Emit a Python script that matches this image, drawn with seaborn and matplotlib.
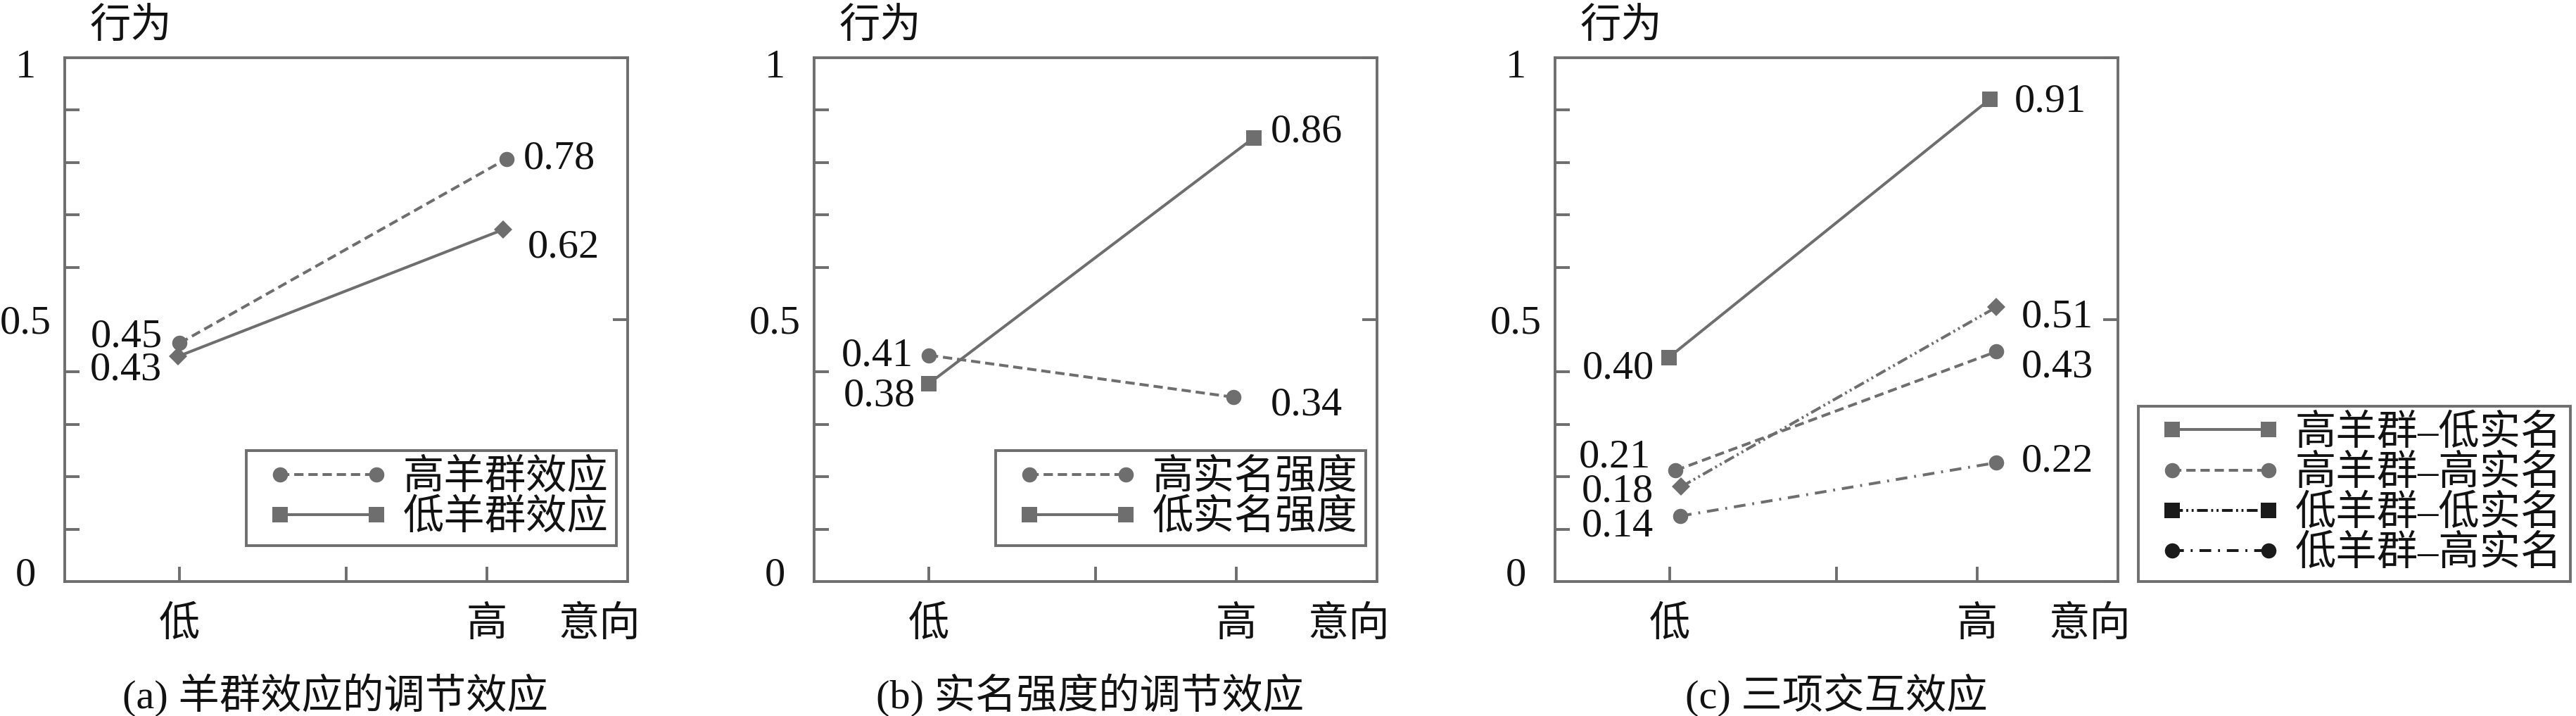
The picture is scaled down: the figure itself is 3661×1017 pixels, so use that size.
import matplotlib
matplotlib.use("Agg")
import matplotlib.pyplot as plt
from matplotlib.lines import Line2D
from matplotlib.legend_handler import HandlerLine2D
from matplotlib.transforms import ScaledTranslation
import seaborn as sns
import pandas as pd

# ---------------- data ----------------
intent_levels = ["低", "高"]          # 意向 (x)
intent_x = [0.0, 1.0]
y_tick_values = [0, 0.5, 1]
y_tick_labels = ["0", "0.5", "1"]
y_label = "行为"
x_label = "意向"

# (a) 羊群效应的调节效应
a_groups = ["高羊群效应", "低羊群效应"]
a_high_herd = [0.455, 0.807]
a_low_herd = [0.430, 0.672]
a_high_herd_x = [0.0, 1.005]
a_low_herd_x = [-0.004, 0.995]
a_high_herd_labels = ["0.45", "0.78"]
a_low_herd_labels = ["0.43", "0.62"]

# (b) 实名强度的调节效应
b_groups = ["高实名强度", "低实名强度"]
b_high_name = [0.432, 0.352]
b_low_name = [0.378, 0.847]
b_high_name_x = [0.0, 0.936]
b_low_name_x = [0.0, 0.998]
b_high_name_labels = ["0.41", "0.34"]
b_low_name_labels = ["0.38", "0.86"]

# (c) 三项交互效应
c_groups = ["高羊群–低实名", "高羊群–高实名", "低羊群–低实名", "低羊群–高实名"]
c_hh_ln = [0.428, 0.921]
c_hh_hn = [0.212, 0.439]
c_lh_ln = [0.181, 0.524]
c_lh_hn = [0.125, 0.227]
c_hh_ln_x = [-0.003, 0.984]
c_hh_hn_x = [0.017, 1.004]
c_lh_ln_x = [0.035, 1.004]
c_lh_hn_x = [0.031, 1.004]
c_hh_ln_labels = ["0.40", "0.91"]
c_hh_hn_labels = ["0.21", "0.43"]
c_lh_ln_labels = ["0.18", "0.51"]
c_lh_hn_labels = ["0.14", "0.22"]

titles = ["(a) 羊群效应的调节效应", "(b) 实名强度的调节效应", "(c) 三项交互效应"]

# ---------------- style ----------------
sns.set_style("white")
FAMILY = ["Liberation Serif", "Noto Sans CJK SC", "DejaVu Sans"]
plt.rcParams["font.family"] = FAMILY
plt.rcParams["lines.scale_dashes"] = False
FS = 42
GRAY = "#6e6e6e"
BLACK = "#1a1a1a"
TEXT = "#121212"
LW = 2.9
FRAME_LW = 2.8
MS = 15.5
MS_D = 13
DASHED = (9.5, 5)
DASHDOTDOT = (11, 3.5, 2, 3.5, 2, 3.5)
DASHDOT = (12, 7, 2, 7)

W, H = 3661, 1017
DPI = 100
fig = plt.figure(figsize=(W / DPI, H / DPI), dpi=DPI)
fig.patch.set_facecolor("white")

AX_TOP, AX_BOT = 82, 826
AX_H = AX_BOT - AX_TOP
AX_W = 800
lefts = [92, 1157, 2210]
axes = [fig.add_axes([L / W, 1 - AX_BOT / H, AX_W / W, AX_H / H]) for L in lefts]

LOW_FRAC, HIGH_FRAC = 0.204, 0.782
span = HIGH_FRAC - LOW_FRAC
xlim = (-LOW_FRAC / span, (1 - LOW_FRAC) / span)
x_mid_tick = (0.5 - LOW_FRAC) / span
x_high_tick = (0.75 - LOW_FRAC) / span
title_x = [0.48, 0.49, 0.50]


def px(v):
    return v / DPI


def frame_axes(ax, title, tx):
    ax.set_xlim(*xlim)
    ax.set_ylim(0, 1)
    for sp in ax.spines.values():
        sp.set_visible(True)
        sp.set_color(GRAY)
        sp.set_linewidth(FRAME_LW)
    ax.set_yticks(y_tick_values, labels=y_tick_labels)
    ax.set_yticks([0.1, 0.2, 0.3, 0.4, 0.6, 0.7, 0.8, 0.9], minor=True)
    ax.tick_params(axis="y", which="major", left=False, right=True, direction="in",
                   length=15, width=FRAME_LW, color=GRAY, labelleft=True,
                   labelsize=FS, labelcolor=TEXT, pad=40)
    ax.tick_params(axis="y", which="minor", left=True, right=False, direction="in",
                   length=15, width=FRAME_LW, color=GRAY)
    labs = ax.get_yticklabels()
    shifts = [14, 0, -8]
    for lab, s in zip(labs, shifts):
        lab.set_horizontalalignment("center")
        lab.set_verticalalignment("center_baseline")
        lab.set_transform(lab.get_transform() + ScaledTranslation(0, px(s), fig.dpi_scale_trans))

    ax.set_xticks([intent_x[0], x_mid_tick, x_high_tick],
                  labels=[intent_levels[0], "", intent_levels[1]])
    ax.set_xticks([x_mid_tick], minor=True)
    ax.tick_params(axis="x", which="major", bottom=True, top=False, direction="in",
                   length=15, width=FRAME_LW, color=GRAY, labelsize=FS,
                   labelcolor=TEXT, pad=40)
    ax.tick_params(axis="x", which="minor", bottom=False, top=True, direction="in",
                   length=15, width=FRAME_LW, color=GRAY)
    for lab in ax.get_xticklabels():
        lab.set_verticalalignment("center_baseline")
    ax.set_xlabel("")
    ax.set_ylabel("")
    ax.text(0.044, 1 + 50 / AX_H, y_label, transform=ax.transAxes,
            ha="left", va="center_baseline", fontsize=FS, color=TEXT)
    ax.text(0.95, -56 / AX_H, x_label, transform=ax.transAxes,
            ha="center", va="center_baseline", fontsize=FS, color=TEXT)
    ax.text(tx, -155 / AX_H, title, transform=ax.transAxes,
            ha="center", va="center_baseline", fontsize=FS, color=TEXT)


def draw_panel(ax, series, groups, markers, dashes):
    rows = []
    for g, (xs, ys) in zip(groups, series):
        for xv, yv in zip(xs, ys):
            rows.append({"意向": xv, "行为": yv, "组别": g})
    df = pd.DataFrame(rows)
    sns.lineplot(data=df, x="意向", y="行为", hue="组别", style="组别",
                 hue_order=groups, style_order=groups,
                 palette={g: GRAY for g in groups},
                 markers=dict(zip(groups, markers)),
                 dashes=dict(zip(groups, dashes)),
                 markersize=MS, linewidth=LW, markeredgewidth=0,
                 sort=False, estimator=None, legend=False, ax=ax)
    for ln in ax.lines:
        if ln.get_marker() == "D":
            ln.set_markersize(MS_D)


def annotate(ax, xs, ys, labels, offsets):
    for xv, yv, lab, (dx, dy, ha) in zip(xs, ys, labels, offsets):
        ax.annotate(lab, (xv, yv), xytext=(dx, dy), textcoords="offset pixels",
                    ha=ha, va="center_baseline", fontsize=FS, color=TEXT)


def legend(ax, labels, styles, **kw):
    handles = []
    for lab, (ls, mk, mcol, lcol) in zip(labels, styles):
        handles.append(Line2D([], [], color=lcol, linestyle=ls, linewidth=LW,
                              marker=mk, markersize=MS, markerfacecolor=mcol,
                              markeredgecolor=mcol, markeredgewidth=0))
    leg = ax.legend(handles, labels, numpoints=2, fontsize=FS, frameon=True,
                    fancybox=False, framealpha=1, edgecolor=GRAY,
                    borderpad=0.2, labelspacing=0.05, handletextpad=0.02,
                    handlelength=3.6, borderaxespad=0,
                    handler_map={Line2D: HandlerLine2D(marker_pad=0.63, numpoints=2)},
                    **kw)
    leg.get_frame().set_linewidth(FRAME_LW)
    for t in leg.get_texts():
        t.set_color(TEXT)
    return leg


# ---------------- panel (a) ----------------
ax = axes[0]
draw_panel(ax, [(a_high_herd_x, a_high_herd), (a_low_herd_x, a_low_herd)], a_groups,
           ["o", "D"], [DASHED, ""])
annotate(ax, a_high_herd_x, a_high_herd, a_high_herd_labels, [(-24, 15, "right"), (24, 6, "left")])
annotate(ax, a_low_herd_x, a_low_herd, a_low_herd_labels, [(-23, -13, "right"), (34, -19, "left")])
frame_axes(ax, titles[0], title_x[0])
legend(ax, a_groups, [((0, DASHED), "o", GRAY, GRAY), ("-", "s", GRAY, GRAY)],
       loc="lower right", bbox_to_anchor=(0.98, 51 / AX_H))

# ---------------- panel (b) ----------------
ax = axes[1]
draw_panel(ax, [(b_high_name_x, b_high_name), (b_low_name_x, b_low_name)], b_groups,
           ["o", "s"], [DASHED, ""])
annotate(ax, b_high_name_x, b_high_name, b_high_name_labels, [(-22, 5, "right"), (53, -5, "left")])
annotate(ax, b_low_name_x, b_low_name, b_low_name_labels, [(-19, -12, "right"), (24, 14, "left")])
frame_axes(ax, titles[1], title_x[1])
legend(ax, b_groups, [((0, DASHED), "o", GRAY, GRAY), ("-", "s", GRAY, GRAY)],
       loc="lower right", bbox_to_anchor=(0.98, 51 / AX_H))

# ---------------- panel (c) ----------------
ax = axes[2]
draw_panel(ax, [(c_hh_ln_x, c_hh_ln), (c_hh_hn_x, c_hh_hn), (c_lh_ln_x, c_lh_ln), (c_lh_hn_x, c_lh_hn)],
           c_groups, ["s", "o", "D", "o"], ["", DASHED, DASHDOTDOT, DASHDOT])
annotate(ax, c_hh_ln_x, c_hh_ln, c_hh_ln_labels, [(-21, -10, "right"), (35, 2, "left")])
annotate(ax, c_hh_hn_x, c_hh_hn, c_hh_hn_labels, [(-35, 25, "right"), (35, -16, "left")])
annotate(ax, c_lh_ln_x, c_lh_ln, c_lh_ln_labels, [(-39, -1, "right"), (35, -8, "left")])
annotate(ax, c_lh_hn_x, c_lh_hn, c_lh_hn_labels, [(-38, -9, "right"), (35, 8, "left")])
frame_axes(ax, titles[2], title_x[2])
pos = ax.get_position()
legend(ax, c_groups,
       [("-", "s", GRAY, GRAY), ((0, DASHED), "o", GRAY, GRAY),
        ((0, DASHDOTDOT), "s", BLACK, BLACK), ((0, DASHDOT), "o", BLACK, BLACK)],
       loc="lower left", bbox_to_anchor=(3039 / W, pos.y0), bbox_transform=fig.transFigure)

fig.savefig("out.png", dpi=DPI, facecolor="white")
